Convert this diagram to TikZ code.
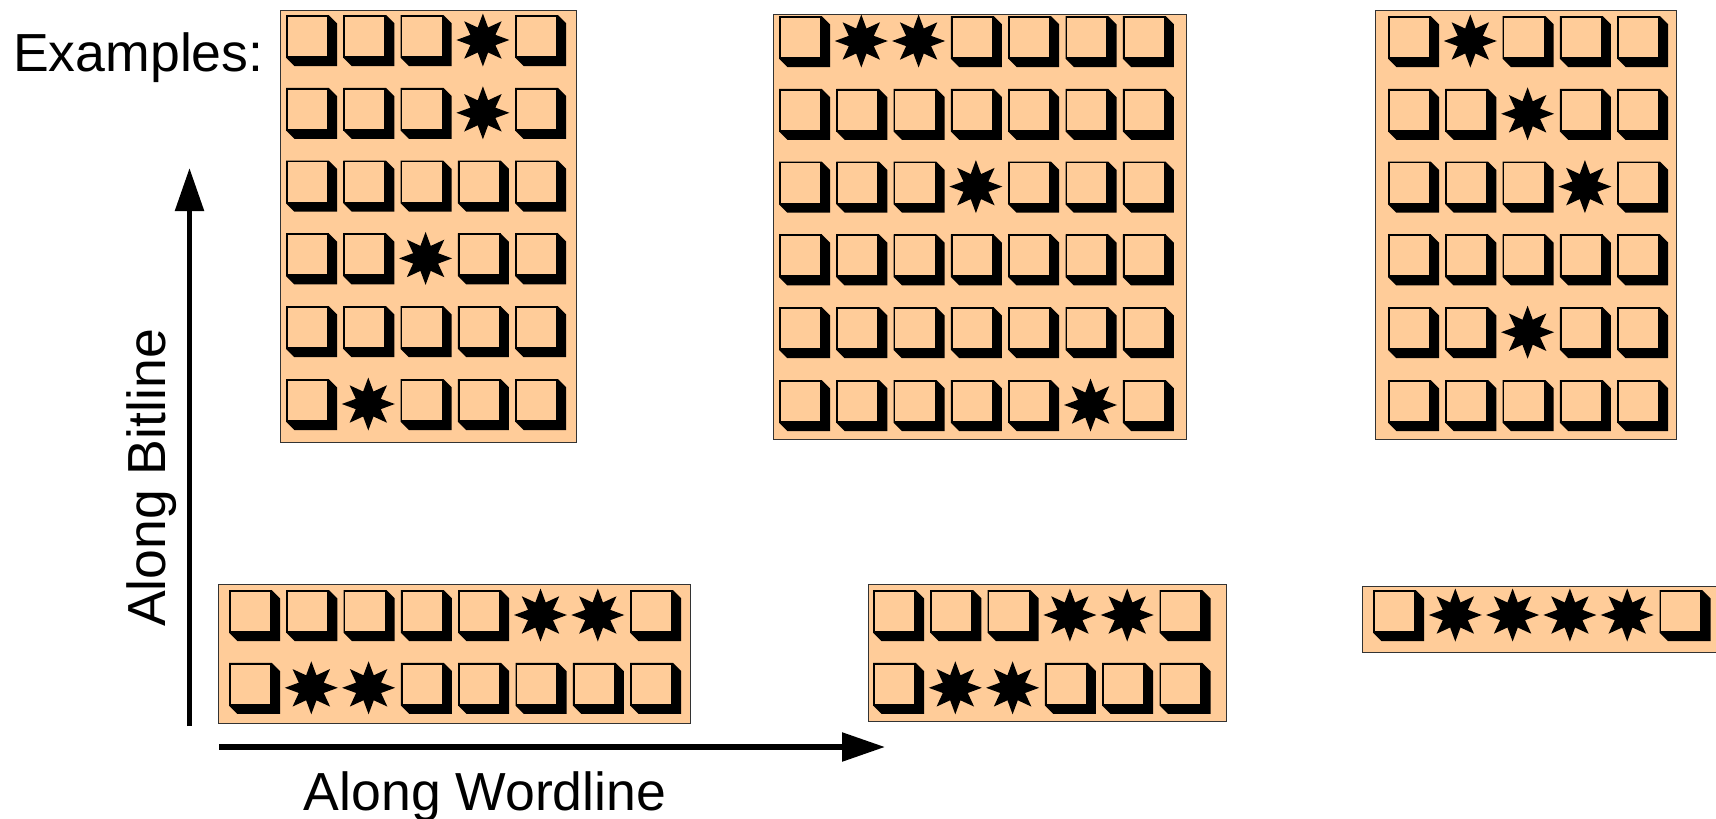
\documentclass[tikz,border=0pt]{standalone}
\usepackage{fontspec}
\setmainfont{Liberation Sans}
\usetikzlibrary{arrows.meta}

\definecolor{peach}{HTML}{FFCC99}

% One memory cell: a square face with a bevelled drop shadow
\tikzset{
  cellbox/.pic={
    \fill[black] (0,0) -- (42.7,0) -- (51,8.3) -- (51,51) -- (8.3,51) -- (0,42.7) -- cycle;
    \draw[black, line width=1.8pt, fill=peach] (0.9,0.9) rectangle (41.8,41.8);
  },
  % A faulty cell: eight-pointed black star
  cellstar/.pic={
    \fill[black] ([shift={(25,25)}]0:26.5)
      \foreach \a in {0,45,...,315} {
        -- ([shift={(25,25)}]\a:26.5) -- ([shift={(25,25)}]\a+22.5:13.5)
      } -- cycle;
  },
  arraybox/.style={draw=black!80, line width=1.3pt, fill=peach, inner sep=0pt, anchor=north west},
  lbl/.style={inner sep=0pt, font=\fontsize{53.6}{60}\selectfont},
  axisarrow/.style={line width=5.5pt, -{Triangle[length=43pt,width=28pt]}},
}

% Grid of cells: #1,#2 = top-left face position, #3 = rows (1 marks a fault)
\newcommand\drawgrid[3]{%
  \foreach \row [count=\r from 0] in {#3} {
    \foreach \v [count=\c from 0] in \row {
      \ifnum\v=1
        \pic at ({#1+\c*57.3},{#2+\r*72.8}) {cellstar};
      \else
        \pic at ({#1+\c*57.3},{#2+\r*72.8}) {cellbox};
      \fi
    }
  }%
}

\begin{document}
\begin{tikzpicture}[x=1pt, y=-1pt]
\useasboundingbox (0,0) rectangle (1716,819);
\clip (0,0) rectangle (1716,819);

% Upper row of arrays
\node[arraybox, minimum width=296pt, minimum height=432pt] (b1) at (280,10) {};
\drawgrid{286}{15}{{0,0,0,1,0},{0,0,0,1,0},{0,0,0,0,0},{0,0,1,0,0},{0,0,0,0,0},{0,1,0,0,0}}

\node[arraybox, minimum width=413pt, minimum height=425pt] (b2) at (773,14) {};
\drawgrid{779}{16}{{0,1,1,0,0,0,0},{0,0,0,0,0,0,0},{0,0,0,1,0,0,0},{0,0,0,0,0,0,0},{0,0,0,0,0,0,0},{0,0,0,0,0,1,0}}

\node[arraybox, minimum width=301pt, minimum height=429pt] (b3) at (1375,10) {};
\drawgrid{1388}{16}{{0,1,0,0,0},{0,0,1,0,0},{0,0,0,1,0},{0,0,0,0,0},{0,0,1,0,0},{0,0,0,0,0}}

% Lower row of arrays
\node[arraybox, minimum width=472pt, minimum height=139pt] (b4) at (218,584) {};
\drawgrid{229}{590}{{0,0,0,0,0,1,1,0},{0,1,1,0,0,0,0,0}}

\node[arraybox, minimum width=358pt, minimum height=137pt] (b5) at (868,584) {};
\drawgrid{873}{590}{{0,0,0,1,1,0},{0,1,1,0,0,0}}

\node[arraybox, minimum width=380pt, minimum height=66pt] (b6) at (1362,586) {};
\drawgrid{1373}{590}{{0,1,1,1,1,0}}

% Axes
\coordinate (vbot) at (189.5,726);
\coordinate (vtop) at (189.5,168);
\coordinate (hleft) at (219,747);
\coordinate (hright) at (885,747);
\draw[axisarrow] (vbot) -- (vtop);
\draw[axisarrow] (hleft) -- (hright);

% Labels
\node[lbl, anchor=base west] (ex) at (13,71) {Examples:};
\node[lbl, anchor=base] (wl) at (485,810) {Along Wordline};
\node[lbl, rotate=90, anchor=base] (bl) at (165,478) {Along Bitline};
\end{tikzpicture}
\end{document}
